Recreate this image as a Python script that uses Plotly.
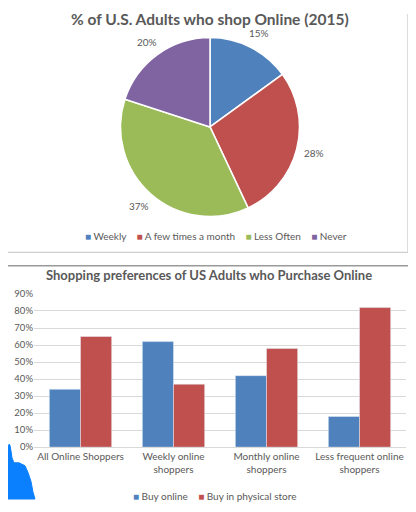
import math
import plotly.graph_objects as go

# ---- data ----
pie_labels = ["Weekly", "A few times a month", "Less Often", "Never"]
pie_values = [15, 28, 37, 20]
pie_colors = ["#4F81BD", "#C0504D", "#9BBB59", "#8064A2"]

bar_categories = ["All Online Shoppers", "Weekly online<br>shoppers",
                  "Monthly online<br>shoppers", "Less frequent online<br>shoppers"]
series_names = ["Buy online", "Buy in physical store"]
buy_online = [34, 62, 42, 18]
buy_store = [65, 37, 58, 82]
bar_colors = ["#4F81BD", "#C0504D"]
y_ticks = [0, 10, 20, 30, 40, 50, 60, 70, 80, 90]
y_tick_labels = [f"{v}%" for v in y_ticks]

# page window is 416x512; the page body keeps an 8px margin
OFF = 8
W, H = 416 - 2 * OFF, 512 - 2 * OFF
FONT = "Lato"
GREY = "#595959"


def px(x):
    return (x - OFF) / W


def py(y):
    return 1 - (y - OFF) / H


def legend_text(names, colors):
    parts = [f'<span style="color:{c}">■</span> {n}' for n, c in zip(names, colors)]
    return "    ".join(parts)


fig = go.Figure()

# pie
fig.add_trace(go.Pie(
    labels=pie_labels, values=pie_values, sort=False, direction="clockwise",
    rotation=0, marker=dict(colors=pie_colors, line=dict(color="white", width=1.5)),
    textinfo="none", hoverinfo="label+percent",
    domain=dict(x=[px(118), px(302)], y=[py(215), py(32)]), showlegend=False,
))

# bars
fig.add_trace(go.Bar(x=bar_categories, y=buy_online, name=series_names[0],
                     marker_color=bar_colors[0], showlegend=False))
fig.add_trace(go.Bar(x=bar_categories, y=buy_store, name=series_names[1],
                     marker_color=bar_colors[1], showlegend=False))

annotations = []
# pie percentage labels
cx, cy = 210, 123.5
r = 92
total = sum(pie_values)
cum = 0
for v in pie_values:
    mid = (cum + v / 2) / total * 2 * math.pi
    cum += v
    lx = cx + 1.17 * r * math.sin(mid)
    ly = cy - 1.17 * r * math.cos(mid)
    annotations.append(dict(x=px(lx), y=py(ly), xref="paper", yref="paper",
                            xanchor="center", yanchor="middle",
                            text=f"{v}%", showarrow=False,
                            font=dict(size=10, color=GREY, family=FONT)))

annotations.append(dict(x=px(210), y=py(13), xref="paper", yref="paper",
                        xanchor="center", yanchor="middle",
                        text="<b>% of U.S. Adults who shop Online (2015)</b>",
                        showarrow=False, font=dict(size=15.5, color=GREY, family=FONT)))
annotations.append(dict(x=px(209), y=py(275), xref="paper", yref="paper",
                        xanchor="center", yanchor="middle",
                        text="<b>Shopping preferences of US Adults who Purchase Online</b>",
                        showarrow=False, font=dict(size=13, color=GREY, family=FONT)))
# legends
annotations.append(dict(x=px(216), y=py(235), xref="paper", yref="paper",
                        xanchor="center", yanchor="middle",
                        text=legend_text(pie_labels, pie_colors),
                        showarrow=False, font=dict(size=10, color=GREY, family=FONT)))
annotations.append(dict(x=px(215), y=py(501), xref="paper", yref="paper",
                        xanchor="center", yanchor="middle",
                        text=legend_text(series_names, bar_colors),
                        showarrow=False, font=dict(size=10, color=GREY, family=FONT)))

# blob path (decorative)
blob_pts = [(8, 451), (9, 448), (10, 449), (11, 455), (12, 462), (14, 467),
            (19, 467), (25, 470), (28, 477), (31, 486), (33, 497), (35, 504),
            (8, 504)]
path = "M " + " L ".join(f"{px(x)},{py(y)}" for x, y in blob_pts) + " Z"

shapes = [
    dict(type="line", xref="paper", yref="paper", x0=0, x1=px(413), y0=py(251.7), y1=py(251.7),
         line=dict(color="#cfcfcf", width=1.2)),
    dict(type="line", xref="paper", yref="paper", x0=px(407.5), x1=px(407.5), y0=py(251.7), y1=1,
         line=dict(color="#dcdcdc", width=1)),
    dict(type="line", xref="paper", yref="paper", x0=0, x1=1, y0=py(265.5), y1=py(265.5),
         line=dict(color="#9a9a9a", width=1.5)),
    dict(type="path", xref="paper", yref="paper", path=path,
         fillcolor="#0a80ff", line=dict(color="#0a80ff", width=1), layer="above"),
]

fig.update_layout(
    width=W, height=H, margin=dict(l=0, r=0, t=0, b=0),
    paper_bgcolor="white", plot_bgcolor="white",
    font=dict(family=FONT, color=GREY, size=10),
    showlegend=False,
    barmode="group", bargap=0.33, bargroupgap=0,
    xaxis=dict(domain=[px(34), px(406)], showgrid=False, showline=True,
               linecolor="#d9d9d9", ticks="", tickfont=dict(size=10, color=GREY),
               fixedrange=True),
    yaxis=dict(domain=[py(451), py(294.3)], range=[0, 90], tickvals=y_ticks,
               ticktext=y_tick_labels, showgrid=True, gridcolor="#d9d9d9", gridwidth=1,
               zeroline=False, showline=False, tickfont=dict(size=9.5, color=GREY),
               fixedrange=True),
    annotations=annotations, shapes=shapes,
)

fig.write_html("out.html", config={"displayModeBar": False})
